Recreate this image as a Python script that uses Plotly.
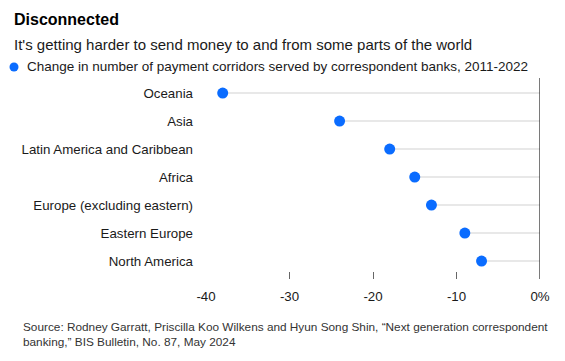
import plotly.graph_objects as go

regions = ["Oceania", "Asia", "Latin America and Caribbean", "Africa",
           "Europe (excluding eastern)", "Eastern Europe", "North America"]
changes = [-38, -24, -18, -15, -13, -9, -7]
x_ticks = [-40, -30, -20, -10, 0]
x_tick_labels = ["-40", "-30", "-20", "-10", "0%"]

W, H = 565, 361
L, R, T, B = 206, 25, 78, 82
PW, PH = W - L - R, H - T - B
FONT = "Liberation Sans, Arial, sans-serif"
BLUE = "#0a6cff"


def px(x):
    return (x - L) / PW


def py(y):
    return (H - B - y) / PH


# stems from each dot to zero
sx, sy = [], []
for r, v in zip(regions, changes):
    sx += [v, 0, None]
    sy += [r, r, None]

fig = go.Figure()
fig.add_trace(go.Scatter(x=sx, y=sy, mode="lines",
                         line=dict(color="#e8e8e8", width=2),
                         hoverinfo="skip", showlegend=False))
fig.add_trace(go.Scatter(x=changes, y=regions, mode="markers",
                         marker=dict(color=BLUE, size=11),
                         showlegend=False))

fig.add_shape(type="line", xref="x", yref="paper", x0=0, x1=0, y0=0, y1=1,
              line=dict(color="#222", width=1.2))
# legend dot
fig.add_shape(type="circle", xref="paper", yref="paper",
              x0=px(9.5), x1=px(18.5), y0=py(62.5), y1=py(71.5),
              fillcolor=BLUE, line=dict(width=0))

ann = [
    dict(text="<b>Disconnected</b>", x=px(12), y=py(20), size=16, color="#000"),
    dict(text="It's getting harder to send money to and from some parts of the world",
         x=px(12), y=py(44), size=15, color="#1a1a1a"),
    dict(text="Change in number of payment corridors served by correspondent banks, 2011-2022",
         x=px(25), y=py(67), size=13.5, color="#1a1a1a"),
    dict(text="Source: Rodney Garratt, Priscilla Koo Wilkens and Hyun Song Shin, \u201cNext generation correspondent<br>banking,\u201d BIS Bulletin, No. 87, May 2024",
         x=px(21), y=py(334), size=11.8, color="#333"),
]
for a in ann:
    fig.add_annotation(text=a["text"], x=a["x"], y=a["y"], xref="paper", yref="paper",
                       xanchor="left", yanchor="middle", showarrow=False, align="left",
                       font=dict(family=FONT, size=a["size"], color=a["color"]))

fig.update_layout(
    width=W, height=H,
    margin=dict(l=L, r=R, t=T, b=B, pad=0),
    paper_bgcolor="white", plot_bgcolor="white",
    font=dict(family=FONT, size=13.3, color="#1a1a1a"),
    xaxis=dict(range=[-40, 0], tickvals=x_ticks, ticktext=x_tick_labels,
               showgrid=False, zeroline=False, showline=False,
               ticks="inside", ticklen=7, tickcolor="#666", tickwidth=1,
               ticklabelstandoff=8, tickfont=dict(size=13.3, color="#1a1a1a")),
    yaxis=dict(type="category", categoryorder="array", categoryarray=regions,
               range=[6.64, -0.54], showgrid=False, zeroline=False, showline=False,
               ticks="", ticklabelstandoff=12, tickfont=dict(size=13.3, color="#1a1a1a")),
)

fig.write_html("out.html", config={"displayModeBar": False},
               post_script="document.body.style.margin='0';")
